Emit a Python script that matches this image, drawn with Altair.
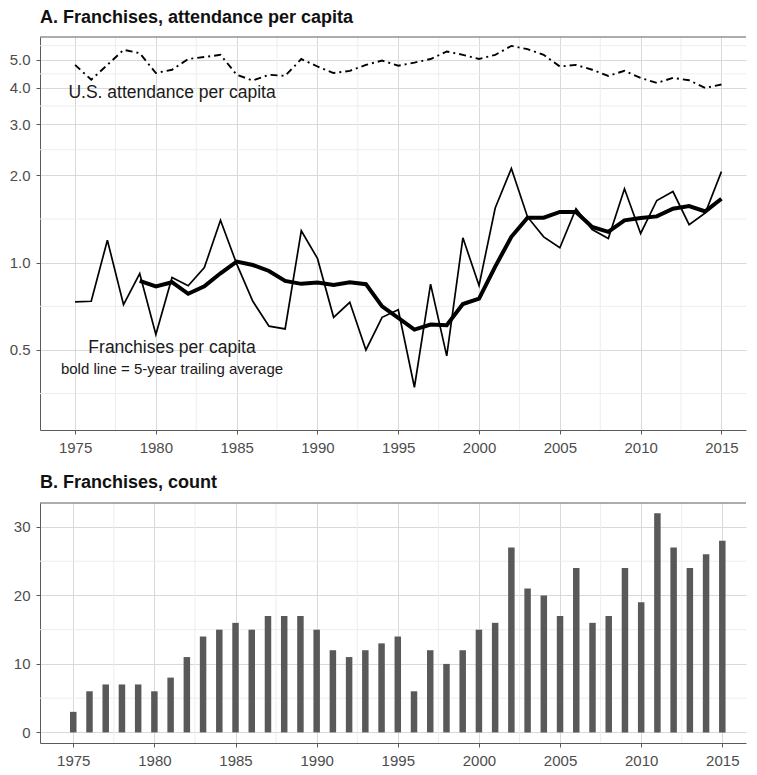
import altair as alt
import pandas as pd

# ---------------- data ----------------
years = list(range(1975, 2016))
franchises_per_capita = [0.732, 0.736, 1.195, 0.716, 0.917, 0.565, 0.889, 0.832, 0.961, 1.399,
                         0.990, 0.736, 0.604, 0.591, 1.287, 1.034, 0.648, 0.730, 0.500, 0.648,
                         0.688, 0.372, 0.843, 0.477, 1.218, 0.834, 1.542, 2.110, 1.437, 1.227,
                         1.125, 1.534, 1.300, 1.211, 1.796, 1.260, 1.637, 1.758, 1.352, 1.483,
                         2.058]
trailing_years = list(range(1979, 2016))
trailing_avg = [0.865, 0.828, 0.856, 0.781, 0.828, 0.919, 1.008, 0.981, 0.936, 0.865,
                0.845, 0.854, 0.838, 0.856, 0.843, 0.707, 0.645, 0.588, 0.612, 0.609,
                0.720, 0.751, 0.969, 1.227, 1.429, 1.429, 1.495, 1.495, 1.328, 1.277,
                1.399, 1.425, 1.443, 1.534, 1.567, 1.501, 1.660]
attendance_per_capita = [4.80, 4.27, 4.80, 5.41, 5.27, 4.50, 4.62, 5.03, 5.11, 5.20,
                         4.44, 4.24, 4.44, 4.40, 5.03, 4.74, 4.50, 4.58, 4.80, 4.97,
                         4.77, 4.89, 5.03, 5.34, 5.20, 5.03, 5.20, 5.58, 5.44, 5.20,
                         4.74, 4.80, 4.62, 4.40, 4.58, 4.33, 4.16, 4.33, 4.25, 4.00,
                         4.11]
franchise_count = [3, 6, 7, 7, 7, 6, 8, 11, 14, 15, 16, 15, 17, 17, 17, 15, 12, 11, 12, 13,
                   14, 6, 12, 10, 12, 15, 16, 27, 21, 20, 17, 24, 16, 17, 24, 19, 32, 27, 24, 26,
                   28]

x_ticks = [1975, 1980, 1985, 1990, 1995, 2000, 2005, 2010, 2015]
x_minor = [1977.5, 1982.5, 1987.5, 1992.5, 1997.5, 2002.5, 2007.5, 2012.5]
y_ticks_a = [0.5, 1.0, 2.0, 3.0, 4.0, 5.0]
y_minor_a = [0.354, 0.707, 1.414, 2.449, 3.464, 4.472, 5.59]
y_ticks_b = [0, 10, 20, 30]
y_minor_b = [5, 15, 25]

annot_text = ["U.S. attendance per capita", "Franchises per capita",
              "bold line = 5-year trailing average"]
annot_year = [1981, 1981, 1981]
annot_value = [3.70, 0.489, 0.412]
annot_size = [17.5, 17.5, 15]

title_a = "A. Franchises, attendance per capita"
title_b = "B. Franchises, count"

# ---------------- styling ----------------
FONT = "Liberation Sans"
BORDER = "#5a5a5a"
MAJOR = "#d9d9d9"
MINOR = "#ededed"

W_A, H_A = 706, 393
W_B, H_B = 706, 240

df_fr = pd.DataFrame({"year": years, "value": franchises_per_capita})
df_tr = pd.DataFrame({"year": trailing_years, "value": trailing_avg})
df_att = pd.DataFrame({"year": years, "value": attendance_per_capita})
df_cnt = pd.DataFrame({"year": years, "count": franchise_count})
df_ann = pd.DataFrame({"year": annot_year, "value": annot_value,
                       "text": annot_text, "size": annot_size})

xs_a = alt.Scale(domain=[1972.83, 2016.52], nice=False, zero=False)
ys_a = alt.Scale(type="log", domain=[0.265, 5.99], nice=False)
xs_b = alt.Scale(domain=[1972.95, 2016.46], nice=False, zero=False)
ys_b = alt.Scale(domain=[-1.55, 33.5], nice=False, zero=False)

x_axis = alt.Axis(values=x_ticks, format="d", title=None)
y_axis_a = alt.Axis(values=y_ticks_a, format=".1f", title=None)
y_axis_b = alt.Axis(values=y_ticks_b, format="d", title=None)

# ---------- panel A ----------
thin = alt.Chart(df_fr).mark_line(color="black", strokeWidth=1.7).encode(
    x=alt.X("year:Q", scale=xs_a, axis=x_axis),
    y=alt.Y("value:Q", scale=ys_a, axis=y_axis_a))
xminor_a = alt.Chart(pd.DataFrame({"m": x_minor})).mark_rule(
    color=MINOR, strokeWidth=1).encode(x=alt.X("m:Q", scale=xs_a, axis=x_axis))
yminor_a = alt.Chart(pd.DataFrame({"m": y_minor_a})).mark_rule(
    color=MINOR, strokeWidth=1).encode(y=alt.Y("m:Q", scale=ys_a, axis=y_axis_a))
bold = alt.Chart(df_tr).mark_line(color="black", strokeWidth=4).encode(
    x=alt.X("year:Q", scale=xs_a, axis=x_axis),
    y=alt.Y("value:Q", scale=ys_a, axis=y_axis_a))
att = alt.Chart(df_att).mark_line(color="black", strokeWidth=1.9,
                                  strokeDash=[7, 4, 2, 4]).encode(
    x=alt.X("year:Q", scale=xs_a, axis=x_axis),
    y=alt.Y("value:Q", scale=ys_a, axis=y_axis_a))
ann = alt.Chart(df_ann).mark_text(font=FONT, color="#1a1a1a", align="center",
                                  baseline="alphabetic").encode(
    x=alt.X("year:Q", scale=xs_a, axis=x_axis),
    y=alt.Y("value:Q", scale=ys_a, axis=y_axis_a),
    text="text:N", size=alt.Size("size:Q", scale=None, legend=None))
top_a = alt.Chart(pd.DataFrame({"t": [0]})).mark_rule(color=BORDER, strokeWidth=1).encode(
    y=alt.value(0), x=alt.value(0), x2=alt.value(W_A))

panel_a = alt.layer(xminor_a, yminor_a, thin, bold, att, ann, top_a).properties(
    width=W_A, height=H_A,
    title=alt.TitleParams(title_a, anchor="start", frame="group", fontSize=18,
                          fontWeight="bold", font=FONT, color="#111111",
                          offset=10))

# ---------- panel B ----------
bars = alt.Chart(df_cnt).transform_calculate(
    x0="datum.year - 0.2", x1="datum.year + 0.2").mark_bar(color="#595959").encode(
    x=alt.X("x0:Q", scale=xs_b, axis=x_axis),
    x2="x1:Q",
    y=alt.Y("count:Q", scale=ys_b, axis=y_axis_b),
    y2=alt.datum(0))
xminor_b = alt.Chart(pd.DataFrame({"m": x_minor})).mark_rule(
    color=MINOR, strokeWidth=1).encode(x=alt.X("m:Q", scale=xs_b, axis=x_axis))
yminor_b = alt.Chart(pd.DataFrame({"m": y_minor_b})).mark_rule(
    color=MINOR, strokeWidth=1).encode(y=alt.Y("m:Q", scale=ys_b, axis=y_axis_b))
top_b = alt.Chart(pd.DataFrame({"t": [0]})).mark_rule(color=BORDER, strokeWidth=1).encode(
    y=alt.value(0), x=alt.value(0), x2=alt.value(W_B))

panel_b = alt.layer(xminor_b, yminor_b, bars, top_b).properties(
    width=W_B, height=H_B,
    title=alt.TitleParams(title_b, anchor="start", frame="group", fontSize=18,
                          fontWeight="bold", font=FONT, color="#111111",
                          offset=11))

chart = alt.vconcat(panel_a, panel_b, spacing=18).properties(
    padding={"left": 1, "top": 0, "right": 0, "bottom": 0}
).configure_view(stroke=None).configure_axis(
    grid=True, gridColor=MAJOR, gridWidth=1,
    domain=True, domainColor=BORDER, domainWidth=1,
    tickColor=BORDER, tickSize=4, tickWidth=1,
    labelFont=FONT, labelFontSize=15, labelColor="#4d4d4d", labelPadding=6,
)

chart.save("out.html", embed_options={"renderer": "svg", "actions": False})
